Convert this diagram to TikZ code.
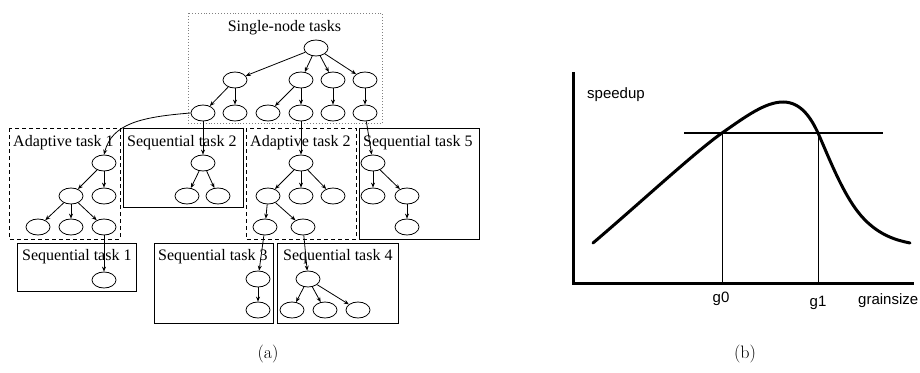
\documentclass[tikz,border=0pt]{standalone}
\usepackage{fontspec}
\usepackage{tikz}
\usetikzlibrary{shapes.geometric, arrows, arrows.meta}
\newfontfamily\timesfont{Liberation Serif}
\newfontfamily\helvfont{Liberation Sans}
\tikzstyle{job} = [ellipse, minimum width=24pt, minimum height=16pt, inner sep=0pt, draw=black, line width=0.8pt]
\tikzstyle{label} = [anchor=base west, inner sep=0pt, font=\timesfont\fontsize{16}{18}\selectfont]
\tikzstyle{seqbox} = [draw=black, line width=1pt]
\tikzstyle{adabox} = [draw=black, line width=0.9pt, dash pattern=on 4pt off 3pt]
\tikzstyle{singlebox} = [draw=gray, line width=0.9pt, dotted]
\tikzstyle{arrow} = [line width=0.8pt, -{Stealth[length=5pt, width=4pt]}]
\tikzstyle{axislabel} = [anchor=base, inner sep=0pt, font=\helvfont\fontsize{15}{17}\selectfont]

\begin{document}
\begin{tikzpicture}[x=1pt, y=-1pt]
\useasboundingbox (0,0) rectangle (920,372);
% boxes
\draw [singlebox] (188,13) rectangle (382,123);
\draw [adabox] (9,128) rectangle (120,239);
\draw [seqbox] (123,128) rectangle (243,207);
\draw [adabox] (246,128) rectangle (356,239);
\draw [seqbox] (359,128) rectangle (479,239);
\draw [seqbox] (17,243) rectangle (136,291);
\draw [seqbox] (154,243) rectangle (273,323);
\draw [seqbox] (277,243) rectangle (398,323);
\node (lsingle) [label, anchor=base] at (284.5,31) {Single-node tasks};
\node (lada1) [label] at (13,146) {Adaptive task 1};
\node (lseq2) [label] at (127,146) {Sequential task 2};
\node (lada2) [label] at (250,146) {Adaptive task 2};
\node (lseq5) [label] at (363,146) {Sequential task 5};
\node (lseq1) [label] at (22,260) {Sequential task 1};
\node (lseq3) [label] at (158,260) {Sequential task 3};
\node (lseq4) [label] at (283,260) {Sequential task 4};

% single-node tasks
\node (r0) [job] at (316,48) {};
\node (a1) [job] at (235,80) {};
\node (a2) [job] at (301,80) {};
\node (a3) [job] at (333,80) {};
\node (a4) [job] at (365,80) {};
\node (b1) [job] at (203,113) {};
\node (b2) [job] at (235,113) {};
\node (b3) [job] at (268,113) {};
\node (b4) [job] at (301,113) {};
\node (b5) [job] at (333,113) {};
\node (b6) [job] at (365,113) {};
% adaptive task 1
\node (p0) [job] at (104,163) {};
\node (p1) [job] at (71,196) {};
\node (p2) [job] at (104,196) {};
\node (p3) [job] at (38,227) {};
\node (p4) [job] at (71,227) {};
\node (p5) [job] at (104,227) {};
% sequential task 1
\node (s0) [job] at (104,280) {};
% sequential task 2
\node (q0) [job] at (203,163) {};
\node (q1) [job] at (187,196) {};
\node (q2) [job] at (218,196) {};
% adaptive task 2
\node (m0) [job] at (301,163) {};
\node (m1) [job] at (268,196) {};
\node (m2) [job] at (301,196) {};
\node (m3) [job] at (333,196) {};
\node (m4) [job] at (265,227) {};
\node (m5) [job] at (303,227) {};
% sequential task 3
\node (t0) [job] at (258,279) {};
\node (t1) [job] at (258,310) {};
% sequential task 4
\node (u0) [job] at (308,279) {};
\node (u1) [job] at (292,310) {};
\node (u2) [job] at (325,310) {};
\node (u3) [job] at (358,310) {};
% sequential task 5
\node (v0) [job] at (373,163) {};
\node (v1) [job] at (373,196) {};
\node (v2) [job] at (407,196) {};
\node (v3) [job] at (407,227) {};

\foreach \a/\b in {r0/a1, r0/a2, r0/a3, r0/a4, a1/b1, a1/b2, a2/b3, a2/b4, a3/b5, a4/b6,
  b1/q0, b4/m0, b6/v0, p0/p1, p0/p2, p1/p3, p1/p4, p1/p5, p5/s0,
  q0/q1, q0/q2, m0/m1, m0/m2, m0/m3, m1/m4, m1/m5, m4/t0, m5/u0, t0/t1,
  u0/u1, u0/u2, u0/u3, v0/v1, v0/v2, v2/v3}
  \draw [arrow] (\a) -- (\b);
\draw [arrow] (b1.west) .. controls (140,117) and (112,124) .. (p0.north);

% speedup curve
\draw [line width=3pt] (573,72) -- (573,283) -- (914,283);
\draw [line width=0.7pt] (722,133) -- (722,283);
\draw [line width=0.7pt] (818,133) -- (818,283);
\draw [line width=2pt] (684,133) -- (883,133);
\draw [line width=3pt, line cap=round] (593,243) .. controls (640,203) and (695,152) .. (722,133)
  .. controls (745,117) and (765,102) .. (783,102)
  .. controls (801,102) and (811,118) .. (818,133)
  .. controls (830,160) and (845,200) .. (865,220)
  .. controls (880,235) and (895,240) .. (910,243);
\node (speedup) [axislabel, anchor=base west] at (587,98) {speedup};
\node (g0) [axislabel] at (721,302) {g0};
\node (g1) [axislabel] at (818,306) {g1};
\node (grain) [axislabel, anchor=base west] at (858,304) {grainsize};

\node (capa) [anchor=base, inner sep=0pt, font=\fontsize{18}{20}\selectfont] at (268,358) {(a)};
\node (capb) [anchor=base, inner sep=0pt, font=\fontsize{18}{20}\selectfont] at (745,358) {(b)};
\end{tikzpicture}
\end{document}
